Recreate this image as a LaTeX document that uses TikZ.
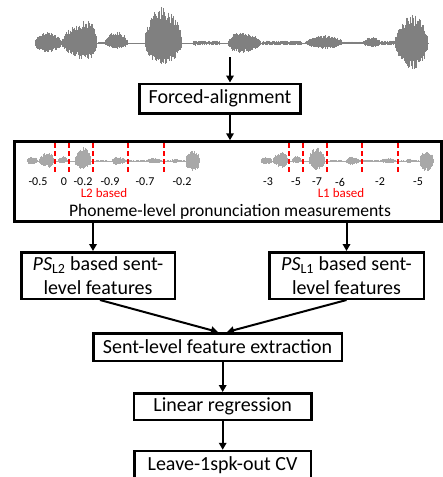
\documentclass[tikz,border=0pt]{standalone}
\usepackage{fontspec}
\setmainfont{Carlito}
\usetikzlibrary{arrows.meta}
\definecolor{wavedark}{HTML}{808080}
\definecolor{wavelight}{HTML}{A8A8A8}
\newcommand\mywave[2]{%
  \draw[#2, line width=0.8pt] (-1,0) -- (393,0);
  \foreach \bS/\bE/\bU/\bD/\bP in {-1/26/11/10/0.4, 26/61/23/17/0.75, 69/92/12/6/0.5, 109/146/36/22/0.45, 192/225/11/10/0.35, 269/307/8/6/0.5, 327/345/6/5/0.5, 359/392/28/27/0.55}{
    \pgfmathsetmacro\bSB{\bS+#1}
    \foreach \wx in {\bS,\bSB,...,\bE}{
      \pgfmathsetmacro\wt{(\wx-\bS)/(\bE-\bS)}
      \pgfmathsetmacro\wen{sqrt(max(0,ifthenelse(\wt<\bP,sin(90*\wt/\bP),cos(90*(\wt-\bP)/(1-\bP)))))}
      \pgfmathsetmacro\wyu{-\bU*\wen*(0.62+0.38*rnd)}
      \pgfmathsetmacro\wyd{\bD*\wen*(0.62+0.38*rnd)}
      \draw[#2, line width=0.9pt] (\wx,\wyu) -- (\wx,\wyd);
    }
  }
  \foreach \bS/\bE/\bU in {62/69/1, 157/184/2.5, 226/266/2.5, 307/327/1.5, 345/359/2.5}{
    \pgfmathsetmacro\bSB{\bS+#1}
    \foreach \wx in {\bS,\bSB,...,\bE}{
      \pgfmathsetmacro\wyu{-\bU*(0.4+0.6*rnd)}
      \pgfmathsetmacro\wyd{\bU*(0.4+0.6*rnd)}
      \draw[#2, line width=0.9pt] (\wx,\wyu) -- (\wx,\wyd);
    }
  }
}
\tikzset{
  box/.style={draw, line width=2.5pt, inner sep=0pt, font=\fontsize{20}{24}\selectfont, align=center},
  arr/.style={line width=2pt, -{Triangle[length=7pt,width=7.5pt]}},
  cut/.style={red, line width=1.6pt, dash pattern=on 5pt off 3pt},
  num/.style={font=\fontsize{12}{14}\selectfont, inner sep=0pt},
  lab/.style={red, font=\fontsize{13}{15}\selectfont, inner sep=0pt},
}
\begin{document}
\begin{tikzpicture}[x=1pt,y=-1pt]
\useasboundingbox (0,0) rectangle (443,477);
\pgfmathsetseed{7}
% main waveform
\begin{scope}[shift={(36,43)}]
  \mywave{0.8}{wavedark}
\end{scope}
% nodes
\node[box, minimum width=161pt, minimum height=29.5pt] (fa) at (220,98.5) {Forced-alignment};
\node[box, minimum width=427pt, minimum height=80pt] (big) at (228,181.5) {};
\node[box, minimum width=153.5pt, minimum height=46.5pt] (psl) at (98,275.5) {\textit{PS}\textsubscript{L2} based sent-\\level features};
\node[box, minimum width=154.5pt, minimum height=46.5pt] (psr) at (346.5,275.5) {\textit{PS}\textsubscript{L1} based sent-\\level features};
\node[box, minimum width=248.5pt, minimum height=27.5pt] (sent) at (217.5,347) {Sent-level feature extraction};
\node[box, minimum width=177.5pt, minimum height=26.5pt] (lin) at (222.7,406.5) {Linear regression};
\node[box, minimum width=176.5pt, minimum height=28pt] (leave) at (222.5,465) {Leave-1spk-out CV};
% small waveforms
\begin{scope}[shift={(27,161)}, xscale=0.441, yscale=0.4]
  \mywave{1.8}{wavelight}
\end{scope}
\begin{scope}[shift={(261,161)}, xscale=0.441, yscale=0.4]
  \mywave{1.8}{wavelight}
\end{scope}
% red cut lines
\foreach \cx in {55,69,93,128,164,289,303,327,362,398}{
  \draw[cut] (\cx,143) -- (\cx,173);
}
% numbers
\foreach \nx/\nv [count=\ni] in {38/-0.5, 64/0, 83/-0.2, 110/-0.9, 145/-0.7, 182/-0.2, 268/-3, 296/-5, 317/-7, 340/-6, 380/-2, 418/-5}{
  \node[num] (n\ni) at (\nx,182) {\nv};
}
\node[lab] (l2) at (104,193.5) {L2 based};
\node[lab] (l1) at (341,193.5) {L1 based};
\node[font=\fontsize{17.6}{20}\selectfont, inner sep=0pt] (pm) at (230,211.5) {Phoneme-level pronunciation measurements};
% connectors
\coordinate (wbot) at (230,57);
\draw[arr] (wbot) -- (wbot |- fa.north);
\draw[arr] (fa.south -| wbot) -- (big.north -| wbot);
\draw[arr] ([xshift=-5pt]psl.north |- big.south) -- ([xshift=-5pt]psl.north);
\draw[arr] (psr.north |- big.south) -- (psr.north);
\draw[arr] ([xshift=2pt]psl.south) -- ([xshift=0.5pt]sent.north);
\draw[arr] (psr.south) -- ([xshift=9.5pt]sent.north);
\draw[arr] (sent.south -| lin.north) -- (lin.north);
\draw[arr] (lin.south) -- (lin.south |- leave.north);
\end{tikzpicture}
\end{document}
